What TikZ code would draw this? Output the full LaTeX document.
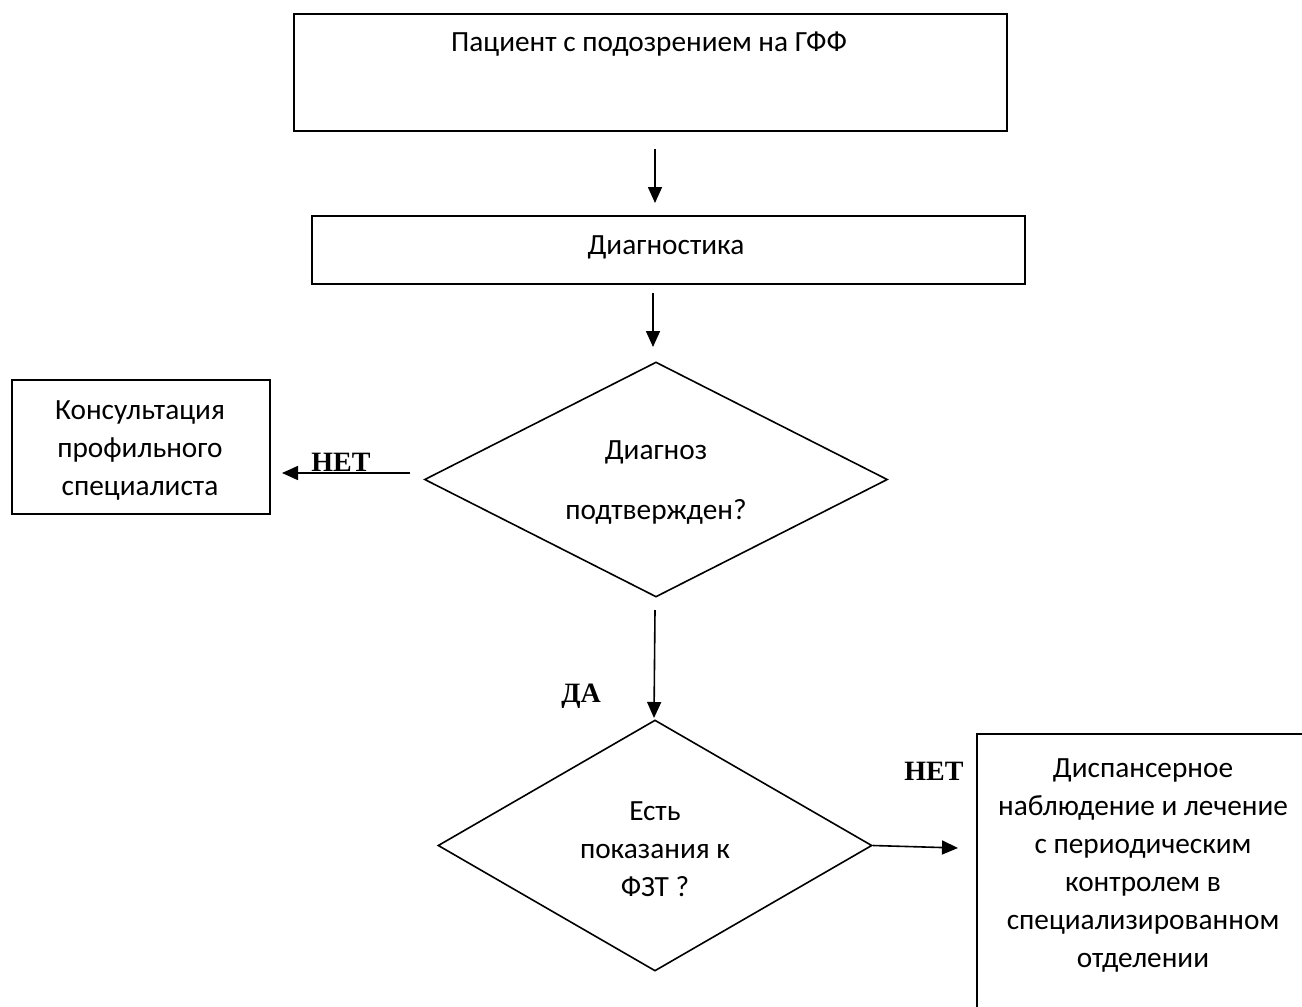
\documentclass[tikz,border=0pt]{standalone}
\usepackage{fontspec}
\setmainfont{Carlito}
\newfontfamily\tnr{Liberation Serif}
\usetikzlibrary{arrows.meta,shapes.geometric}
\begin{document}
\begin{tikzpicture}[x=1pt,y=-1pt,
  lw/.style={line width=1.6pt},
  box/.style={draw,lw,inner sep=0pt,anchor=north west},
  dia/.style={draw,lw,diamond,inner sep=0pt},
  txt/.style={font=\fontsize{29.3}{38}\selectfont,align=center,inner sep=0pt},
  lbl/.style={font=\tnr\bfseries\fontsize{28}{34}\selectfont,inner sep=0pt,anchor=base},
  arr/.style={lw,-{Triangle[length=16pt,width=14pt]}}]
\useasboundingbox (0,0) rectangle (1302,1007);
\begin{scope}
\clip (0,0) rectangle (1302,1007);
% boxes
\node[box,minimum width=713pt,minimum height=117pt] (b1) at (293,13) {};
\node[box,minimum width=713pt,minimum height=68pt] (b2) at (311,215) {};
\node[box,minimum width=258pt,minimum height=134pt] (b3) at (11,379) {};
\node[box,minimum width=420pt,minimum height=400pt] (b4) at (976,733) {};
% diamonds
\node[dia,minimum width=463pt,minimum height=235pt] (d1) at (656,479.5) {};
\node[dia,minimum width=434pt,minimum height=251pt] (d2) at (655,845.5) {};
% texts
\node[txt] (t1) at (649,44) {\strut Пациент с подозрением на ГФФ\strut};
\node[txt] (t2) at (666,247) {\strut Диагностика\strut};
\node[txt] (t3) at (140,450) {\strut Консультация\\профильного\\специалиста\strut};
\node[txt] (t4) at (656,482) {\strut Диагноз\\[22pt]подтвержден?\strut};
\node[txt] (t5) at (655,851) {\strut Есть\\показания к\\ФЗТ ?\strut};
\node[txt] (t6) at (1143,865) {\strut Диспансерное\\наблюдение и лечение\\с периодическим\\контролем в\\специализированном\\отделении\strut};
% labels
\node[lbl] (l1) at (341,471) {НЕТ};
\node[lbl] (l2) at (934,780) {НЕТ};
\node[lbl] (l3) at (581,702) {ДА};
% connector ends
\coordinate (a1s) at (655,149);
\coordinate (a1e) at (655,203);
\coordinate (a2s) at (653,293);
\coordinate (a2e) at (653,347);
\coordinate (a3s) at (655,610);
\coordinate (a3e) at (654,718);
\coordinate (a4e) at (958,848);
\coordinate (a5s) at (410,473);
\coordinate (a5e) at (282,473);
\draw[arr] (a1s) -- (a1e);
\draw[arr] (a2s) -- (a2e);
\draw[arr] (a3s) -- (a3e);
\draw[arr] (d2.east) -- (a4e);
\draw[arr] (a5s) -- (a5e);
\end{scope}
\end{tikzpicture}
\end{document}
